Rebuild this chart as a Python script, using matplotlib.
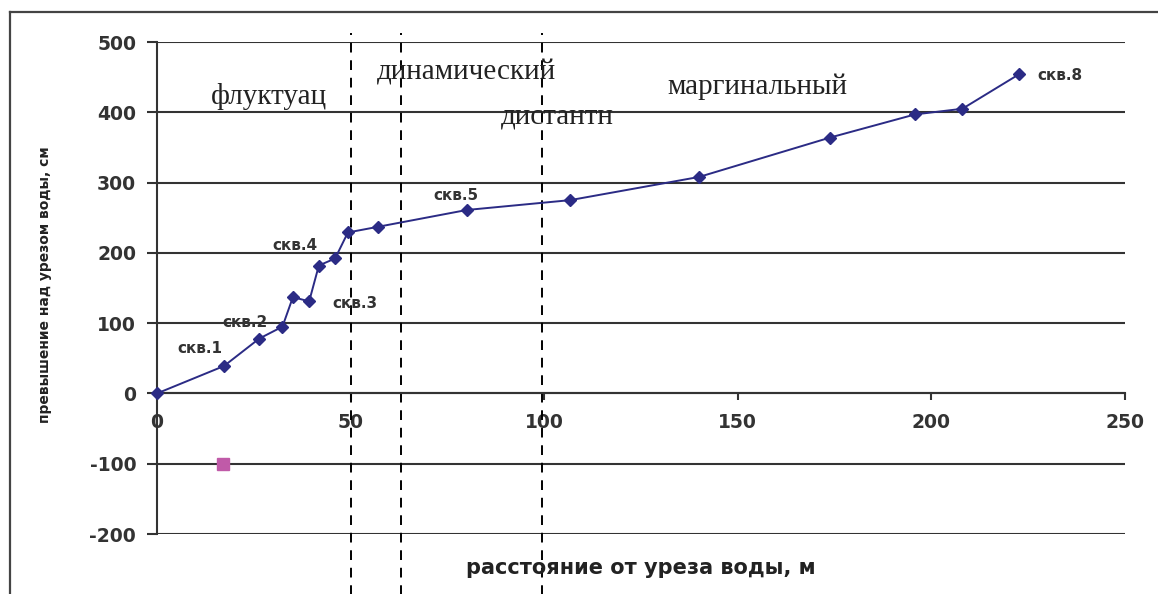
import matplotlib
matplotlib.use("Agg")
import matplotlib.pyplot as plt
from matplotlib.lines import Line2D

plt.rcParams["axes.unicode_minus"] = False

# профиль: расстояние от уреза воды (м) и превышение над урезом (см)
dist = [0, 17.3, 26.4, 32.4, 35.1, 39.3, 41.8, 46.0, 49.3, 57.0, 80.0, 106.7, 140.0, 173.8, 195.8, 208.0, 222.6]
height = [0, 39, 78, 95, 137, 131, 182, 192, 229, 237, 261, 275, 308, 364, 397, 405, 454]

# точка уровня воды
water_x = [17]
water_y = [-100]

# подписи скважин
well_names = ["скв.1", "скв.2", "скв.3", "скв.4", "скв.5", "скв.8"]
well_x = [11, 22.7, 51.2, 35.6, 77.2, 227.3]
well_y = [64, 101, 128, 211, 282, 453]

# границы зон и их названия
zone_bounds = [50, 63, 99.5]
zone_names = ["флуктуац", "динамический", "дистантн", "маргинальный"]
zone_x = [29, 80, 103.3, 155]
zone_y = [422, 456, 394, 437]

fig = plt.figure(figsize=(11.58, 5.94), dpi=100)
ax = fig.add_axes([157/1158, 1 - 534/594, (1125 - 157)/1158, (534 - 42)/594])

# рамка рисунка сверху и слева
fig.add_artist(Line2D([10/1158, 1], [1 - 12/594, 1 - 12/594], color="#444444", lw=1.6))
fig.add_artist(Line2D([10/1158, 10/1158], [0, 1 - 12/594], color="#444444", lw=1.6))

ax.set_xlim(0, 250)
ax.set_ylim(-200, 500)
ax.set_yticks(range(-200, 501, 100))
ax.set_xticks(range(0, 251, 50))
ax.yaxis.grid(True, color="#333333", lw=1.5)
ax.set_axisbelow(True)

for s in ["top", "right"]:
    ax.spines[s].set_visible(False)
ax.spines["bottom"].set_position(("data", 0))
ax.spines["bottom"].set_linewidth(1.5)
ax.spines["bottom"].set_color("#333333")
ax.spines["left"].set_linewidth(1.5)
ax.spines["left"].set_color("#333333")

ax.tick_params(axis="y", length=7, width=1.5, color="#333333", pad=8, labelcolor="#333333")
ax.tick_params(axis="x", length=5, width=1.5, color="#333333", pad=9, labelcolor="#333333")
for lab in ax.get_xticklabels() + ax.get_yticklabels():
    lab.set_fontfamily("DejaVu Sans")
    lab.set_fontweight("bold")
    lab.set_fontsize(13.5)

# границы зон
for xb in zone_bounds:
    ax.axvline(xb, ymin=-0.125, ymax=1.019, color="black", lw=1.4,
               dashes=(5, 4), clip_on=False)

ax.plot(dist, height, color="#2b2b85", lw=1.4, marker="D", ms=6.5,
        mfc="#2b2b85", mec="#2b2b85", zorder=3, clip_on=False)
ax.plot(water_x, water_y, ls="none", marker="s", ms=8, color="#c05aa8", zorder=3)

for name, x, y in zip(well_names, well_x, well_y):
    ax.text(x, y, name, ha="left" if name == "скв.8" else "center", va="center",
            family="DejaVu Sans", weight="bold", size=11, color="#333333")

for name, x, y in zip(zone_names, zone_x, zone_y):
    ax.text(x, y, name, ha="center", va="center", family="Liberation Serif",
            size=21, color="#222222")

fig.text(641/1158, 1 - 568/594, "расстояние от уреза воды, м", ha="center", va="center",
         family="DejaVu Sans", weight="bold", size=15, color="#222222")
fig.text(45/1158, 1 - 285/594, "превышение над урезом воды, см", ha="center", va="center",
         rotation=90, family="DejaVu Sans", weight="bold", size=10, color="#222222")

fig.savefig("out.png", dpi=100)
